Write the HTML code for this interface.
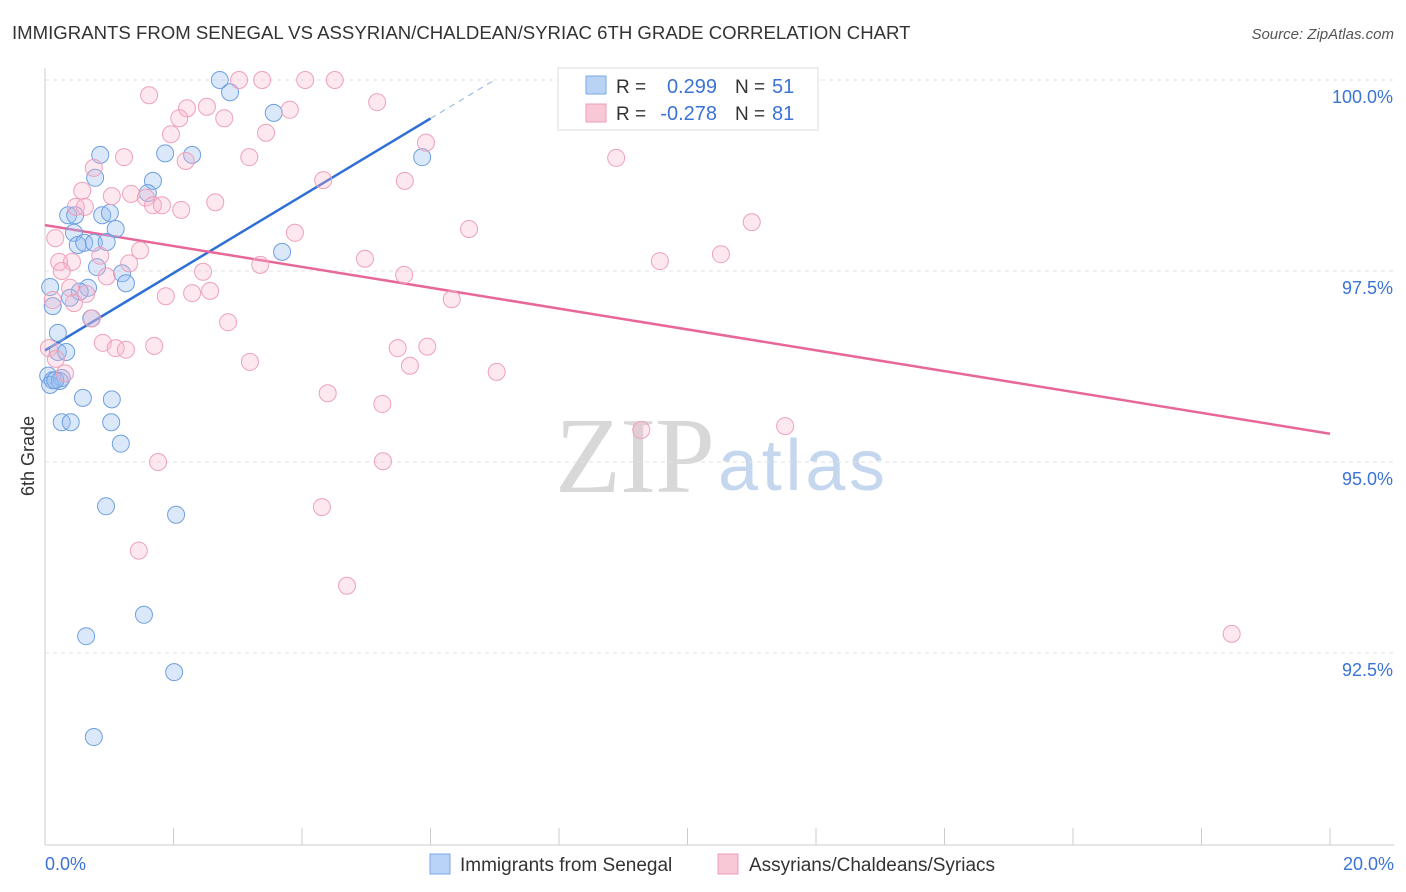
<!DOCTYPE html>
<html><head><meta charset="utf-8"><style>
body{margin:0;background:#fff;font-family:"Liberation Sans",sans-serif;}
svg{display:block}
</style></head><body>
<svg id="chart" width="1406" height="892">
<text x="12" y="39" font-size="18.6" fill="#333">IMMIGRANTS FROM SENEGAL VS ASSYRIAN/CHALDEAN/SYRIAC 6TH GRADE CORRELATION CHART</text>
<text x="1394" y="39" font-size="15" fill="#555" text-anchor="end" font-style="italic">Source: ZipAtlas.com</text>
<text x="34" y="456" font-size="18" fill="#333" text-anchor="middle" transform="rotate(-90 34 456)">6th Grade</text>
<text x="555" y="492" font-size="108" fill="#d8d8d8" textLength="160" font-family="Liberation Serif,serif">ZIP</text>
<text x="718" y="490" font-size="72" fill="#c5d7ef" textLength="167">atlas</text>
<g id="grid"></g><g id="axes"></g><g id="lines"></g><g id="points"></g>
<g>
<rect x="558" y="68" width="260" height="62" fill="#fff" stroke="#ddd"/>
<rect x="586" y="76" width="20" height="18" fill="#b8d3f5" stroke="#7aa8e6"/>
<rect x="586" y="104" width="20" height="18" fill="#f9c8d7" stroke="#ee9cb6"/>
<text x="616" y="93" font-size="19" fill="#333">R =</text>
<text x="717" y="93" font-size="20" fill="#3b73d6" text-anchor="end">0.299</text>
<text x="735" y="93" font-size="19" fill="#333">N =</text>
<text x="772" y="93" font-size="20" fill="#3b73d6">51</text>
<text x="616" y="120" font-size="19" fill="#333">R =</text>
<text x="717" y="120" font-size="20" fill="#3b73d6" text-anchor="end">-0.278</text>
<text x="735" y="120" font-size="19" fill="#333">N =</text>
<text x="772" y="120" font-size="20" fill="#3b73d6">81</text>
</g>
<g>
<rect x="430" y="854" width="20" height="20" fill="#b8d3f5" stroke="#7aa8e6"/>
<text x="460" y="871" font-size="19" fill="#333">Immigrants from Senegal</text>
<rect x="718" y="854" width="20" height="20" fill="#f9c8d7" stroke="#ee9cb6"/>
<text x="749" y="871" font-size="19" fill="#333">Assyrians/Chaldeans/Syriacs</text>
</g>
</svg>
<script>
const blueX=[2.72,2.88,3.56,0.86,1.87,2.29,0.78,1.68,1.60,0.36,0.47,0.89,1.01,1.10,0.45,0.51,0.61,0.76,0.96,3.69,0.81,1.20,1.26,0.08,0.67,0.54,0.39,0.12,0.72,0.20,0.20,0.33,0.05,0.12,0.26,0.08,0.23,0.59,1.04,0.26,0.40,1.03,1.18,0.95,2.04,1.54,0.64,2.01,0.76,5.87,0.16];
const blueY=[100,99.84,99.57,99.02,99.04,99.02,98.72,98.68,98.52,98.23,98.23,98.23,98.26,98.05,98.00,97.84,97.87,97.87,97.88,97.75,97.55,97.47,97.34,97.29,97.28,97.23,97.15,97.04,96.88,96.69,96.44,96.44,96.13,96.07,96.10,96.01,96.06,95.84,95.82,95.52,95.52,95.52,95.24,94.42,94.31,93.00,92.72,92.25,91.40,98.99,96.07];
const pinkX=[3.02,3.38,4.05,4.51,1.62,2.21,2.52,5.17,3.81,2.09,2.79,1.96,3.44,5.93,1.23,2.19,3.18,8.89,0.76,4.33,5.60,0.58,1.04,1.34,1.57,0.48,0.62,1.68,1.82,2.12,2.65,11.00,6.60,3.89,0.16,1.48,0.86,0.22,0.42,1.31,4.98,3.35,9.57,10.52,0.26,0.96,2.46,5.59,0.39,0.64,1.88,2.29,2.57,6.33,0.12,0.73,2.85,0.06,0.90,1.10,1.26,1.70,5.49,5.95,0.17,3.19,5.68,7.03,0.31,4.40,5.25,9.28,11.52,1.76,5.26,4.31,1.46,4.70,18.47,0.45];
const pinkY=[100,100,100,100,99.80,99.63,99.65,99.71,99.61,99.50,99.50,99.29,99.31,99.18,98.99,98.94,98.99,98.98,98.85,98.69,98.68,98.55,98.48,98.51,98.46,98.34,98.34,98.36,98.36,98.30,98.40,98.14,98.05,98.00,97.93,97.77,97.70,97.62,97.62,97.60,97.66,97.58,97.63,97.72,97.50,97.43,97.49,97.45,97.28,97.20,97.17,97.21,97.24,97.13,97.12,96.88,96.83,96.49,96.56,96.49,96.47,96.52,96.49,96.51,96.35,96.31,96.26,96.18,96.16,95.90,95.76,95.42,95.47,95.00,95.01,94.41,93.84,93.38,92.75,97.08];
const yTicks=[100,97.5,95,92.5];
const yTickLabels=["100.0%","97.5%","95.0%","92.5%"];
const xTicks=[0,2,4,6,8,10,12,14,16,18,20];
const blueTrend=[96.46,0.506];
const pinkTrend=[98.10,-0.1365];
const NS="http://www.w3.org/2000/svg";
const xs=v=>45+v*64.25, ys=v=>80+(100-v)*76.4;
function mk(p,t,a){const e=document.createElementNS(NS,t);for(const k in a)e.setAttribute(k,a[k]);document.getElementById(p).appendChild(e);return e;}
yTicks.forEach((t,i)=>{
 const l=mk('grid','line',{x1:45,x2:1394,y1:ys(t),y2:ys(t),stroke:'#e2e2e2','stroke-dasharray':'4,4'});
 
 
 const tx=mk('grid','text',{x:1393,y:ys(t)+23,'font-size':18,fill:'#3b73d6','text-anchor':'end'});
 tx.textContent=yTickLabels[i];
 
 
});
const ax=mk('axes','line',{x1:45,x2:45,y1:68,y2:845,stroke:'#ccc'});


const bx=mk('axes','line',{x1:45,x2:1394,y1:845,y2:845,stroke:'#ccc'});


xTicks.forEach(t=>{
 const l=mk('axes','line',{x1:xs(t),x2:xs(t),y1:828,y2:845,stroke:'#ccc'});
 
 
});
const x0=mk('axes','text',{x:45,y:870,'font-size':18,fill:'#3b73d6'});x0.textContent='0.0%';


const x1=mk('axes','text',{x:1394,y:870,'font-size':18,fill:'#3b73d6','text-anchor':'end'});x1.textContent='20.0%';


blueX.forEach((x,i)=>{
 const c=mk('points','circle',{cx:xs(x),cy:ys(blueY[i]),r:8.5,fill:'rgba(150,190,240,0.35)',stroke:'#6f9fe0','stroke-width':1});
 
 
});
pinkX.forEach((x,i)=>{
 const c=mk('points','circle',{cx:xs(x),cy:ys(pinkY[i]),r:8.5,fill:'rgba(248,180,202,0.3)',stroke:'#eea0bb','stroke-width':1});
 
 
});
const bl=mk('lines','line',{x1:xs(0),y1:ys(blueTrend[0]),x2:xs(6),y2:ys(blueTrend[0]+6*blueTrend[1]),stroke:'#2f6fd6','stroke-width':2.5});


const bd=mk('lines','line',{x1:xs(6),y1:ys(blueTrend[0]+6*blueTrend[1]),x2:xs(7),y2:ys(blueTrend[0]+7*blueTrend[1]),stroke:'#9dbde8','stroke-width':1.2,'stroke-dasharray':'6,5'});


const pl=mk('lines','line',{x1:xs(0),y1:ys(pinkTrend[0]),x2:xs(20),y2:ys(pinkTrend[0]+20*pinkTrend[1]),stroke:'#e8679a','stroke-width':2.5});


</script>
</body></html>
